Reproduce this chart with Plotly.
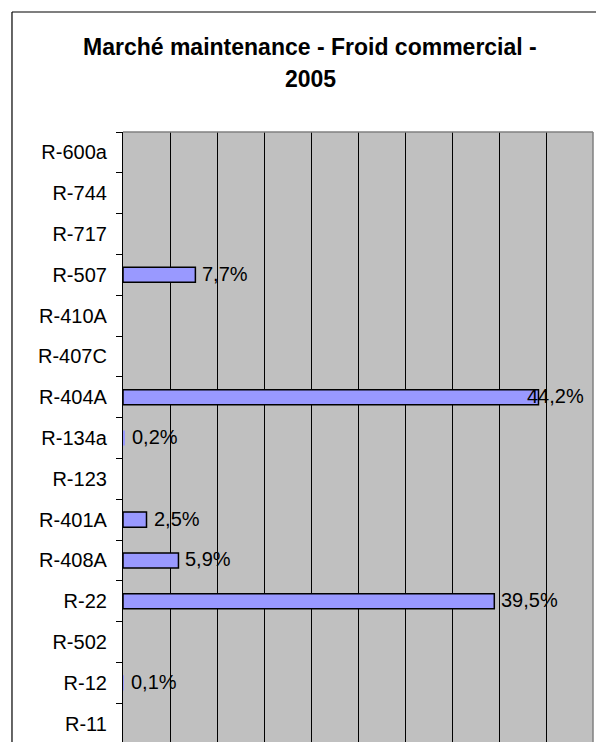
import plotly.graph_objects as go

# Refrigerant market shares (maintenance, commercial refrigeration, 2005)
refrigerants = ["R-11", "R-12", "R-502", "R-22", "R-408A", "R-401A", "R-123",
                "R-134a", "R-404A", "R-407C", "R-410A", "R-507", "R-717",
                "R-744", "R-600a"]
shares = [None, 0.1, None, 39.5, 5.9, 2.5, None,
          0.2, 44.2, None, None, 7.7, None, None, None]
share_labels = [None, "0,1%", None, "39,5%", "5,9%", "2,5%", None,
                "0,2%", "44,2%", None, None, "7,7%", None, None, None]
x_ticks = [0, 5, 10, 15, 20, 25, 30, 35, 40, 45, 50]

FONT = "Liberation Sans, Arial, sans-serif"

# bars thinner than a pixel get no outline
outline_widths = [1.5 if (v is not None and v >= 1) else 0 for v in shares]

fig = go.Figure()
fig.add_trace(go.Bar(
    y=refrigerants,
    x=shares,
    orientation="h",
    width=0.37,
    marker=dict(color="#9999FF", line=dict(color="black", width=outline_widths)),
    hoverinfo="skip",
))

# value labels placed just right of each bar end
for cat, val, lab in zip(refrigerants, shares, share_labels):
    if lab is None:
        continue
    shift = -13 if val > 42 else 5
    fig.add_annotation(
        x=val, y=cat, xref="x", yref="y", text=lab, showarrow=False,
        xanchor="left", yanchor="middle", xshift=shift, yshift=1,
        font=dict(family=FONT, size=20, color="black"),
    )

# chart title, two lines
fig.add_annotation(x=0.3987, y=1.1393, xref="paper", yref="paper",
                   text="<b>Marché maintenance - Froid commercial -</b>",
                   showarrow=False, xanchor="center", yanchor="middle",
                   font=dict(family=FONT, size=23, color="black"))
fig.add_annotation(x=0.3987, y=1.0869, xref="paper", yref="paper",
                   text="<b>2005</b>",
                   showarrow=False, xanchor="center", yanchor="middle",
                   font=dict(family=FONT, size=23, color="black"))

# chart-area frame (left and top edges)
fig.add_shape(type="line", xref="paper", yref="paper",
              x0=-0.2362, x1=-0.2362, y0=-0.1, y1=1.1967,
              line=dict(color="black", width=1.2))
fig.add_shape(type="line", xref="paper", yref="paper",
              x0=-0.2362, x1=1.1, y0=1.1967, y1=1.1967,
              line=dict(color="black", width=1.2))
# plot-area top and right edges
fig.add_shape(type="line", xref="paper", yref="paper",
              x0=0, x1=1, y0=1, y1=1, line=dict(color="#808080", width=1.5))
fig.add_shape(type="line", xref="paper", yref="paper",
              x0=1, x1=1, y0=0, y1=1, line=dict(color="#808080", width=1.5))

fig.update_layout(
    width=596, height=742,
    margin=dict(l=123, r=3, t=132, b=0),
    paper_bgcolor="white",
    plot_bgcolor="#C0C0C0",
    showlegend=False,
    font=dict(family=FONT, color="black"),
)
fig.update_xaxes(
    range=[0, 50], tickvals=x_ticks, showticklabels=False,
    showgrid=True, gridcolor="black", gridwidth=1,
    zeroline=False, showline=False, ticks="", fixedrange=True,
)
fig.update_yaxes(
    type="category", categoryorder="array", categoryarray=refrigerants,
    range=[-0.45, 14.5],
    showline=True, linecolor="black", linewidth=1.2,
    ticks="outside", ticklen=6, tickcolor="black", tickwidth=1,
    tickson="boundaries", showgrid=False, zeroline=False,
    tickfont=dict(family=FONT, size=20, color="black"),
    ticklabelstandoff=11, fixedrange=True,
)

fig.write_html("out.html")
